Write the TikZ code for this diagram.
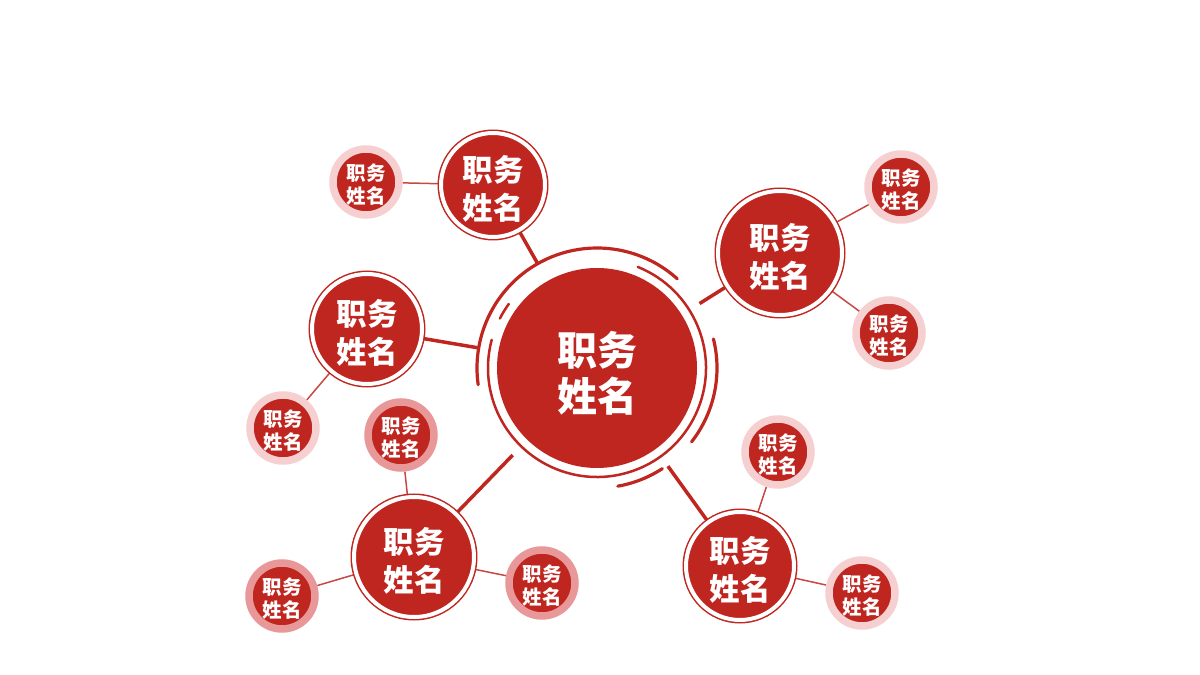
\documentclass[tikz,border=0pt]{standalone}
\usepackage{fontspec}
\newfontfamily\cjk{Noto Sans CJK SC}
\usetikzlibrary{backgrounds}
\definecolor{mred}{RGB}{192,38,32}
\definecolor{halolight}{RGB}{246,208,208}
\definecolor{halodark}{RGB}{232,152,152}
\tikzset{
  txt/.style={text=white, align=center, inner sep=0pt},
  bigfont/.style={font={\cjk\bfseries\fontsize{40}{46}\selectfont}},
  midfont/.style={font={\cjk\bfseries\fontsize{30.5}{38}\selectfont}},
  smallfont/.style={font={\cjk\bfseries\fontsize{19.5}{23.5}\selectfont}},
  bigtext/.style={label={[txt,bigfont,yshift=-5pt]center:#1}},
  midtext/.style={label={[txt,midfont,yshift=-4pt]center:#1}},
  smalltext/.style={label={[txt,smallfont,yshift=-2.5pt]center:#1}},
  centernode/.style={circle, fill=mred, inner sep=0pt, minimum size=200pt},
  midnode/.style={circle, fill=mred, inner sep=0pt, draw=mred, line width=1.5pt,
     double=white, double distance=4pt, minimum size=#1},
  smallnode/.style={circle, fill=mred, inner sep=0pt, draw=#1, line width=7.5pt,
     minimum size=66pt},
  thickcon/.style={mred, line width=3.5pt},
  thincon/.style={mred!85, line width=1.5pt},
  outerarc/.style={mred, line width=3.2pt, line cap=round},
  innerarc/.style={mred, line width=2.5pt, line cap=round},
}
\begin{document}
\begin{tikzpicture}[x=1pt,y=1pt]
\useasboundingbox (0,0) rectangle (1200,675);
% centre decoration
\coordinate (cc) at (597,307);
\fill[white] (cc) circle (121pt);
\draw[outerarc] ([shift={(48:120pt)}]cc) arc (48:188:120pt);
\draw[outerarc] ([shift={(14:120pt)}]cc) arc (14:-38:120pt);
\draw[outerarc] ([shift={(-57:120pt)}]cc) arc (-57:-80:120pt);
\draw[innerarc] ([shift={(68:109pt)}]cc) arc (68:-195:109pt);
\draw[innerarc] ([shift={(144:109pt)}]cc) arc (144:153:109pt);
\node[centernode, bigtext={职务\\姓名}] (c) at (cc) {};
% middle nodes
\node[midnode=104pt, midtext={职务\\姓名}] (tl) at (493,490) {};
\node[midnode=110pt, midtext={职务\\姓名}] (ml) at (367,346) {};
\node[midnode=124pt, midtext={职务\\姓名}] (r)  at (780,422) {};
\node[midnode=120pt, midtext={职务\\姓名}] (bl) at (414,118) {};
\node[midnode=108pt, midtext={职务\\姓名}] (br) at (740,109) {};
% small nodes
\node[smallnode=halolight, smalltext={职务\\姓名}] (s1) at (366,493) {};
\node[smallnode=halolight, smalltext={职务\\姓名}] (s2) at (901,488) {};
\node[smallnode=halolight, smalltext={职务\\姓名}] (s3) at (889,342) {};
\node[smallnode=halolight, smalltext={职务\\姓名}] (s4) at (283,247) {};
\node[smallnode=halodark,  smalltext={职务\\姓名}] (s5) at (401,240) {};
\node[smallnode=halodark,  smalltext={职务\\姓名}] (s6) at (282,79)  {};
\node[smallnode=halodark,  smalltext={职务\\姓名}] (s7) at (542,92)  {};
\node[smallnode=halolight, smalltext={职务\\姓名}] (s8) at (778,223) {};
\node[smallnode=halolight, smalltext={职务\\姓名}] (s9) at (862,82)  {};
% connectors
\begin{scope}[on background layer]
\draw[thickcon] (c.center) -- (tl.center);
\draw[thickcon] (c.center) -- (ml.center);
\draw[thickcon] (c.center) -- (r.center);
\draw[thickcon] (c.center) -- (bl.center);
\draw[thickcon] (c.center) -- (br.center);
\draw[thincon] (tl) -- (s1);
\draw[thincon] (r) -- (s2);
\draw[thincon] (r) -- (s3);
\draw[thincon] (ml) -- (s4);
\draw[thincon] (bl) -- (s5);
\draw[thincon] (bl) -- (s6);
\draw[thincon] (bl) -- (s7);
\draw[thincon] (br) -- (s8);
\draw[thincon] (br) -- (s9);
\end{scope}
\end{tikzpicture}
\end{document}
